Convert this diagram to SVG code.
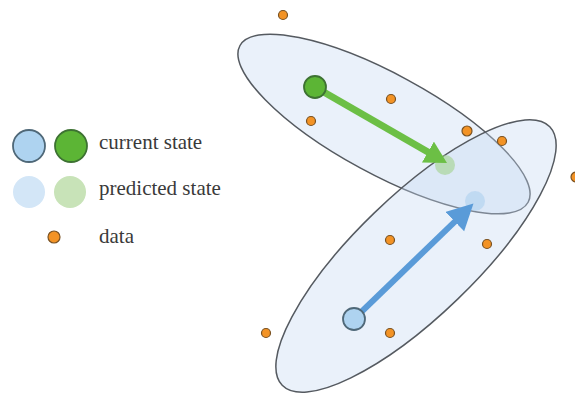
<svg xmlns="http://www.w3.org/2000/svg" width="575" height="394" viewBox="0 0 575 394">
<style>
.ell{fill:#c4d9f0;fill-opacity:0.36;stroke:#555a60;stroke-width:1.5}
.dat{fill:#f39325;stroke:#7a5222;stroke-width:1.2}
.lbl{font-family:"Liberation Serif","Times New Roman",serif;font-size:21px;fill:#3a3a3a}
.cb{fill:#aed3f0;stroke:#4f6878;stroke-width:1.8}
.cg{fill:#5cb535;stroke:#3d7232;stroke-width:1.8}
.pb{fill:#a9cdef;fill-opacity:0.55}
.pg{fill:#9ccf83;fill-opacity:0.55}
</style>
<defs>
<marker id="hg" markerUnits="userSpaceOnUse" markerWidth="24" markerHeight="26" refX="10" refY="12" orient="auto" viewBox="0 0 24 26">
<path d="M0,0 L22,12 L0,24 z" fill="#6cbf45"/>
</marker>
<marker id="hb" markerUnits="userSpaceOnUse" markerWidth="28" markerHeight="28" refX="12" refY="13.5" orient="auto" viewBox="0 0 28 28">
<path d="M0,0 L26,13.5 L0,27 z" fill="#5a9bd8"/>
</marker>
</defs>
<rect width="575" height="394" fill="#ffffff"/>
<g id="ellipse-green"><ellipse class="ell" cx="384" cy="124" rx="164" ry="50" transform="rotate(28.5 384 124)"/></g>
<g id="ellipse-blue"><ellipse class="ell" cx="416" cy="256" rx="186" ry="60" transform="rotate(-44 416 256)"/></g>
<g id="predicted-green"><circle class="pg" cx="445" cy="165" r="10"/></g>
<g id="predicted-blue"><circle class="pb" cx="475" cy="201" r="10"/></g>
<g id="connectors">
<line x1="315" y1="87" x2="436.6" y2="157" stroke="#6cbf45" stroke-width="7" marker-end="url(#hg)"/>
<line x1="354" y1="319" x2="463.4" y2="213.3" stroke="#5a9bd8" stroke-width="6" marker-end="url(#hb)"/>
</g>
<g id="current-green"><circle class="cg" cx="315" cy="87" r="11"/></g>
<g id="current-blue"><circle class="cb" cx="354" cy="319" r="11"/></g>
<g id="data">
<circle class="dat" cx="283" cy="15" r="4.5"/>
<circle class="dat" cx="391" cy="99" r="4.5"/>
<circle class="dat" cx="311" cy="121" r="4.5"/>
<circle class="dat" cx="467" cy="131" r="5"/>
<circle class="dat" cx="502" cy="141" r="4.5"/>
<circle class="dat" cx="576" cy="177" r="5"/>
<circle class="dat" cx="390" cy="240" r="4.5"/>
<circle class="dat" cx="487" cy="244" r="4.5"/>
<circle class="dat" cx="266" cy="333" r="4.5"/>
<circle class="dat" cx="390" cy="333" r="4.5"/>
</g>
<g id="legend-current">
<circle class="cb" cx="29" cy="146" r="16"/>
<circle class="cg" cx="71" cy="146" r="16"/>
<text class="lbl" x="99" y="149">current state</text>
</g>
<g id="legend-predicted">
<circle cx="29" cy="192" r="16" fill="#d3e6f7"/>
<circle cx="70" cy="192" r="16" fill="#c8e3b8"/>
<text class="lbl" x="99" y="195">predicted state</text>
</g>
<g id="legend-data">
<circle class="dat" cx="54" cy="237" r="6"/>
<text class="lbl" x="99" y="243">data</text>
</g>
</svg>
